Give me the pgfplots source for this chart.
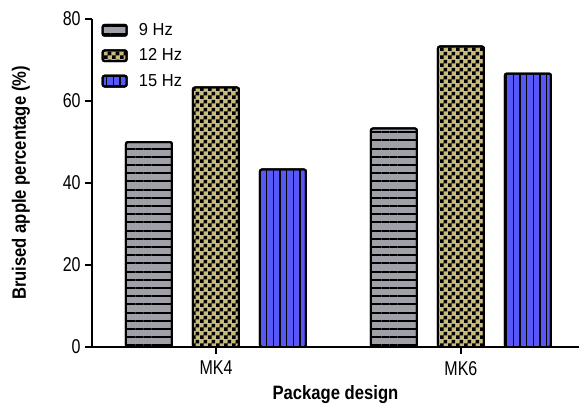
\documentclass[border=0pt]{standalone}
\usepackage{fontspec}
\setmainfont{Liberation Sans}
\newfontfamily\condfont[FakeStretch=0.86]{Liberation Sans}
\newfontfamily\tickfont[FakeStretch=0.8]{Liberation Sans}
\newfontfamily\legfont[FakeStretch=0.95]{Liberation Sans}
\usepackage{pgfplots}
\pgfplotsset{compat=1.18}
\usetikzlibrary{patterns,patterns.meta}
\pgfdeclarepatternformonly{mychecker}{\pgfpointorigin}{\pgfqpoint{6pt}{6pt}}{\pgfqpoint{6pt}{6pt}}{%
  \pgfpathrectangle{\pgfpointorigin}{\pgfqpoint{3pt}{3pt}}%
  \pgfpathrectangle{\pgfqpoint{3pt}{3pt}}{\pgfqpoint{3pt}{3pt}}%
  \pgfusepath{fill}}
\definecolor{barGray}{RGB}{160,160,168}
\definecolor{barKhaki}{RGB}{200,186,122}
\definecolor{barBlue}{RGB}{88,88,250}
\pgfplotstableread{
x y
0 50.0
1 53.3
}\nine
\pgfplotstableread{
x y
0 63.3
1 73.3
}\twelve
\pgfplotstableread{
x y
0 43.3
1 66.7
}\fifteen
\begin{document}
\begin{tikzpicture}
\path[use as bounding box] (-69pt,-48pt) rectangle (365.25pt,260.25pt);
\begin{axis}[
  at={(0,0)}, anchor=south west,
  scale only axis,
  width=365.25pt, height=246pt,
  axis lines*=left,
  axis line style={line width=1.1pt},
  ymin=0, ymax=80,
  ytick={0,20,40,60,80},
  xmin=-0.506, xmax=1.482,
  xtick={0,1},
  xticklabels={MK4,MK6},
  tick align=outside,
  major tick length=5pt,
  tick style={line width=1.1pt, black},
  /pgf/number format/assume math mode=true,
  tick label style={font=\tickfont\fontsize{15}{17}\selectfont},
  yticklabel style={xshift=0pt},
  xticklabel style={yshift=-2pt},
  xlabel={Package design},
  ylabel={Bruised apple percentage (\%)},
  label style={font=\condfont\fontsize{14.5}{16}\selectfont\bfseries},
  xlabel style={at={(axis description cs:0.5,-0.146)}, anchor=center},
  ylabel style={at={(axis description cs:-0.1458,0.5)}, anchor=center, rotate=0},
  ybar,
  bar width=34.5pt,
  legend style={draw=none, fill=none, at={(axis description cs:0.0,1)}, anchor=north west,
    font=\legfont\fontsize{13}{15}\selectfont, row sep=4.5pt, xshift=4pt, yshift=1pt,
    legend cell align=left},
  legend image code/.code={\draw[#1, rounded corners=1.5pt, line width=1.6pt] (0pt,-4pt) rectangle (18pt,4pt); \path (24.5pt,0pt);},
]
\addplot[bar shift=-50.25pt, draw=black, line width=1.5pt, rounded corners=1.5pt, fill=barGray,
  postaction={pattern={Lines[angle=0,distance=6.15pt,line width=1.6pt]}, pattern color=black}]
  table[x=x,y=y]{\nine};
\addplot[bar shift=0pt, draw=black, line width=1.5pt, rounded corners=1.5pt, fill=barKhaki,
  postaction={pattern=mychecker, pattern color=black}]
  table[x=x,y=y]{\twelve};
\addplot[bar shift=50.25pt, draw=black, line width=1.5pt, rounded corners=1.5pt, fill=barBlue,
  postaction={pattern={Lines[angle=90,distance=5pt,line width=0.9pt]}, pattern color=black}]
  table[x=x,y=y]{\fifteen};
\legend{9 Hz, 12 Hz, 15 Hz}
\end{axis}
\end{tikzpicture}
\end{document}
